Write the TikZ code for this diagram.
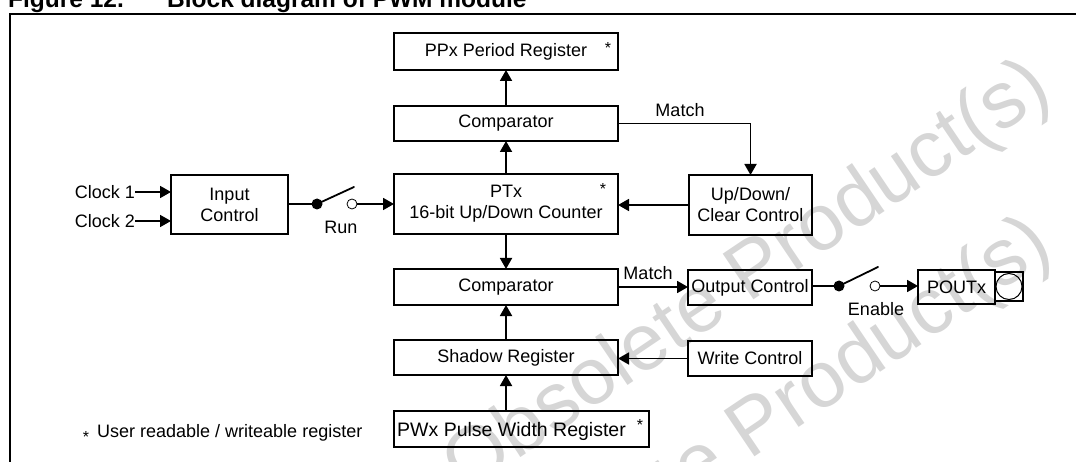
\documentclass[tikz,border=0pt]{standalone}
\usepackage{fontspec}
\setmainfont{Liberation Sans}
\usetikzlibrary{arrows.meta,calc}
\definecolor{wmgray}{RGB}{214,214,214}
\newcommand{\lblfont}{\fontsize{18}{21}\selectfont}
\newcommand{\pwxfont}{\fontsize{19.5}{22}\selectfont}
\newcommand{\wmfont}{\fontsize{80}{80}\selectfont}
\newcommand{\ttlfont}{\fontsize{24.5}{28}\selectfont\bfseries}
\tikzset{
  blk/.style={draw, line width=1.8pt, inner sep=0pt, outer sep=0pt, font=\lblfont, align=center},
  wire/.style={line width=1.8pt},
  arr/.style={wire, -{Triangle[length=11pt,width=12pt]}},
  lbl/.style={font=\lblfont, inner sep=0pt},
  starlbl/.style={font=\fontsize{16}{16}\selectfont, inner sep=0pt},
  opencirc/.style={circle, draw, line width=0.8pt, minimum size=10pt, inner sep=0pt, outer sep=0pt},
  fdot/.style={circle, fill, minimum size=11pt, inner sep=0pt, outer sep=0pt},
  wmtext/.style={text=wmgray, font=\wmfont, inner sep=0pt, anchor=base east, rotate=34},
}
\begin{document}
\begin{tikzpicture}[x=1pt, y=-1pt]
\useasboundingbox (0,0) rectangle (1076,462);
\clip (0,0) rectangle (1076,462);
% watermark
\node[wmtext] (wm1) at (1055,97) {Obsolete Product(s)};
\node[wmtext] (wm2) at (1056,254) {Obsolete Product(s)};
% title and frame
\node[font=\ttlfont, inner sep=0pt, anchor=base west] (ttl1) at (8,8) {Figure 12.};
\node[font=\ttlfont, inner sep=0pt, anchor=base west] (ttl2) at (167,8) {Block diagram of PWM module};
\draw[line width=2pt] (10,462) -- (10,14) -- (1076,14);
% central column
\node[blk, minimum width=224pt, minimum height=37pt] (ppx) at (506,51.5) {PPx Period Register};
\node[starlbl] (ppxs) at (608,48) {*};
\node[blk, minimum width=224pt, minimum height=35pt] (cmp1) at (506,123.5) {Comparator};
\node[blk, minimum width=224pt, minimum height=60pt] (ptx) at (506,204) {PTx\\16-bit Up/Down Counter};
\node[starlbl] (ptxs) at (603,189) {*};
\node[blk, minimum width=224pt, minimum height=36pt] (cmp2) at (506,287) {Comparator};
\node[blk, minimum width=224pt, minimum height=35pt] (shd) at (506,357.5) {Shadow Register};
\node[blk, minimum width=255pt, minimum height=36pt] (pwx) at (521.5,429) {};
\node[font=\pwxfont, inner sep=0pt, anchor=west] (pwxt) at (397,431) {PWx Pulse Width Register};
\node[starlbl] (pwxs) at (640,425) {*};
% left side
\node[blk, minimum width=117pt, minimum height=59pt] (inc) at (229.5,204.5) {Input\\Control};
\node[lbl, anchor=east] (clk1) at (135,192) {Clock 1};
\node[lbl, anchor=east] (clk2) at (135,221) {Clock 2};
\draw[arr] (clk1.east) -- (clk1.east -| inc.west);
\draw[arr] (clk2.east) -- (clk2.east -| inc.west);
% run switch
\node[fdot] (d1) at (317,204) {};
\coordinate (l1) at (354,187);
\node[opencirc] (oc1) at (352,204) {};
\draw[wire] (inc.east |- d1) -- (d1.center);
\draw[wire, line cap=round] (d1.center) -- (l1);
\draw[arr] (oc1.east) -- (oc1.east -| ptx.west);
\node[lbl] (run) at (341,227) {Run};
% right side
\node[blk, minimum width=123pt, minimum height=60pt] (udc) at (750.5,205) {Up/Down/\\Clear Control};
\node[blk, minimum width=124pt, minimum height=35pt] (outc) at (750,287.5) {Output Control};
\node[blk, minimum width=124pt, minimum height=35pt] (wctl) at (750,358.5) {Write Control};
\node[blk, minimum width=77pt, minimum height=34pt] (pout) at (956.5,287) {POUTx};
\node[draw, line width=1.5pt, minimum width=28pt, minimum height=29pt, inner sep=0pt, outer sep=0pt] (pad) at (1009,286.5) {};
\node[circle, draw, line width=1pt, minimum size=26pt, inner sep=0pt] (padc) at (pad.center) {};
% vertical arrows
\draw[arr] (ptx.north) -- (cmp1.south);
\draw[arr] (cmp1.north) -- (ppx.south);
\draw[arr] (ptx.south) -- (cmp2.north);
\draw[arr] (shd.north) -- (cmp2.south);
\draw[arr] (shd.south |- pwx.north) -- (shd.south);
% match to up/down
\draw[arr] (cmp1.east) -| (udc.north);
\node[lbl] (m1) at (680,110) {Match};
\draw[arr] (udc.west) -- (udc.west -| ptx.east);
% match to output
\draw[arr] (cmp2.east) -- (cmp2.east -| outc.west);
\node[lbl] (m2) at (648,273) {Match};
% enable switch
\node[fdot] (d2) at (839,286) {};
\coordinate (l2) at (878,267);
\node[opencirc] (oc2) at (875,286) {};
\draw[wire] (outc.east |- d2) -- (d2.center);
\draw[wire, line cap=round] (d2.center) -- (l2);
\draw[arr] (oc2.east) -- (oc2.east -| pout.west);
\node[lbl] (en) at (876,309) {Enable};
% write control
\draw[arr] (wctl.west) -- (wctl.west -| shd.east);
% footnote
\node[starlbl] (fns) at (86,437) {*};
\node[lbl, anchor=west] (fn) at (97,433) {User readable / writeable register};
\end{tikzpicture}
\end{document}
